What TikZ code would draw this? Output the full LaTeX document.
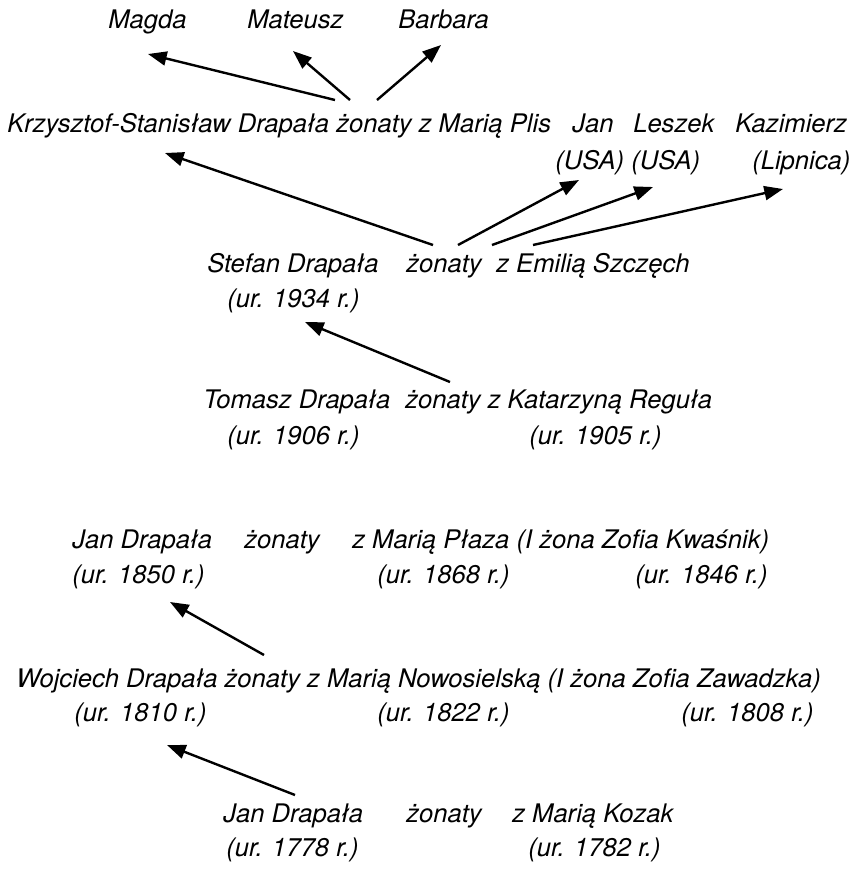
\documentclass[tikz,border=0pt]{standalone}
\usepackage{fontspec}
\setmainfont{TeX Gyre Heros}
\usetikzlibrary{arrows.meta}
\begin{document}
\begin{tikzpicture}[x=0.75pt,y=-0.75pt,
  lbl/.style={anchor=base west,inner sep=0pt,font=\fontsize{19.2}{23}\selectfont\itshape},
  link/.style={line width=1.8pt,-{Triangle[length=14pt,width=10.5pt]}}]
\useasboundingbox (0,0) rectangle (861,869);

% children of Krzysztof-Stanisław
\node[lbl] (magda)   at (108,28) {Magda};
\node[lbl] (mateusz) at (247,28) {Mateusz};
\node[lbl] (barbara) at (398,28) {Barbara};

% children of Stefan
\node[lbl] (krzysztof) at (7,132) {Krzysztof-Stanisław Drapała żonaty z Marią Plis};
\node[lbl] (jan1)      at (572,132) {Jan};
\node[lbl] (leszek)    at (633,132) {Leszek};
\node[lbl] (kazimierz) at (735,132) {Kazimierz};
\node[lbl] (usa1)      at (555,169) {(USA)};
\node[lbl] (usa2)      at (631,169) {(USA)};
\node[lbl] (lipnica)   at (752,169) {(Lipnica)};

% Stefan
\node[lbl] (stefan)    at (207,272) {Stefan Drapała};
\node[lbl] (zonatyS)   at (406,272) {żonaty};
\node[lbl] (emilia)    at (496,272) {z Emilią Szczęch};
\node[lbl] (stefanUr)  at (227,307) {(ur. 1934 r.)};

% Tomasz
\node[lbl] (tomasz)      at (203,408) {Tomasz Drapała};
\node[lbl] (katarzyna)   at (405,408) {żonaty z Katarzyną Reguła};
\node[lbl] (tomaszUr)    at (227,444) {(ur. 1906 r.)};
\node[lbl] (katarzynaUr) at (529,444) {(ur. 1905 r.)};

% Jan (1850)
\node[lbl] (janB)      at (72,548) {Jan Drapała};
\node[lbl] (zonatyJ)   at (244,548) {żonaty};
\node[lbl] (plaza)     at (352,548) {z Marią Płaza (I żona Zofia Kwaśnik)};
\node[lbl] (janBUr)    at (72,583) {(ur. 1850 r.)};
\node[lbl] (plazaUr)   at (377,583) {(ur. 1868 r.)};
\node[lbl] (kwasnikUr) at (635,583) {(ur. 1846 r.)};

% Wojciech
\node[lbl] (wojciech)   at (16,687) {Wojciech Drapała żonaty z Marią Nowosielską (I żona Zofia Zawadzka)};
\node[lbl] (wojciechUr) at (74,721) {(ur. 1810 r.)};
\node[lbl] (nowosUr)    at (377,721) {(ur. 1822 r.)};
\node[lbl] (zawadUr)    at (681,721) {(ur. 1808 r.)};

% Jan (1778)
\node[lbl] (janA)    at (223,822) {Jan Drapała};
\node[lbl] (zonatyA) at (406,822) {żonaty};
\node[lbl] (kozak)   at (512,822) {z Marią Kozak};
\node[lbl] (janAUr)  at (226,856) {(ur. 1778 r.)};
\node[lbl] (kozakUr) at (528,856) {(ur. 1782 r.)};

% arrow ends
\coordinate (kOut1) at (335,100);  \coordinate (kIn1) at (148,54);
\coordinate (kOut2) at (350,100);  \coordinate (kIn2) at (293,51);
\coordinate (kOut3) at (377,100);  \coordinate (kIn3) at (441,45);
\coordinate (sOut1) at (433,245);  \coordinate (sIn1) at (165,153);
\coordinate (sOut2) at (458,245);  \coordinate (sIn2) at (579,180);
\coordinate (sOut3) at (492,245);  \coordinate (sIn3) at (653,187);
\coordinate (sOut4) at (533,245);  \coordinate (sIn4) at (783,189);
\coordinate (tOut)  at (450,382);  \coordinate (tIn)  at (305,322);
\coordinate (wOut)  at (264,655);  \coordinate (wIn)  at (170,602);
\coordinate (aOut)  at (295,795);  \coordinate (aIn)  at (167,745);

\draw[link] (kOut1) -- (kIn1);
\draw[link] (kOut2) -- (kIn2);
\draw[link] (kOut3) -- (kIn3);
\draw[link] (sOut1) -- (sIn1);
\draw[link] (sOut2) -- (sIn2);
\draw[link] (sOut3) -- (sIn3);
\draw[link] (sOut4) -- (sIn4);
\draw[link] (tOut) -- (tIn);
\draw[link] (wOut) -- (wIn);
\draw[link] (aOut) -- (aIn);
\end{tikzpicture}
\end{document}
